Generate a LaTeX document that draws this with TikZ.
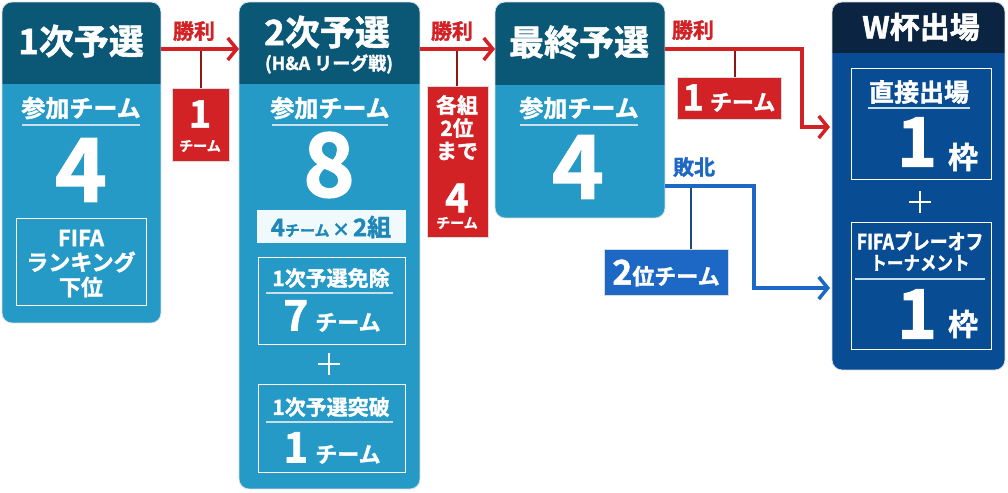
\documentclass[tikz,border=0pt]{standalone}
\usepackage{fontspec}
\setmainfont{Noto Sans CJK JP}[BoldFont={Noto Sans CJK JP Bold}, BoldFeatures={FakeBold=1.5}]
\usetikzlibrary{arrows.meta,calc}
\definecolor{hdr}{RGB}{10,88,118}
\definecolor{bod}{RGB}{38,154,199}
\definecolor{wred}{RGB}{210,34,38}
\definecolor{dred}{RGB}{140,24,24}
\definecolor{lblue}{RGB}{28,104,196}
\definecolor{dblue}{RGB}{30,70,130}
\definecolor{navy}{RGB}{10,36,66}
\definecolor{wbody}{RGB}{8,76,148}
\definecolor{uline}{RGB}{200,222,232}
\definecolor{pale}{RGB}{240,250,253}
\definecolor{tblue}{RGB}{32,136,184}
\definecolor{edge}{RGB}{215,220,225}
\newcommand\myfs[1]{\fontsize{#1pt}{#1pt}\selectfont}
\tikzset{
  blk/.style={anchor=north west, inner sep=0pt, outer sep=0pt},
  wt/.style={text=white, inner sep=0pt, outer sep=0pt},
  lbl/.style={inner sep=0pt, outer sep=0pt, font=\bfseries\myfs{21}},
  frm/.style={draw=white, line width=1pt, anchor=north west, inner sep=0pt, outer sep=0pt},
  uln/.style={draw=uline, line width=2pt},
  plus/.style={draw=white, line width=1.6pt},
  winl/.style={draw=wred, line width=3.5pt},
  losel/.style={draw=lblue, line width=3.5pt},
  tip/.style={-{Straight Barb[length=9pt,width=22pt]}},
  rbox/.style={fill=wred, draw=edge, line width=0.8pt, anchor=north west, inner sep=0pt, outer sep=0pt},
  bbox/.style={fill=lblue, draw=edge, line width=0.8pt, anchor=north west, inner sep=0pt, outer sep=0pt},
}
\begin{document}
\begin{tikzpicture}[x=1pt,y=-1pt]
\useasboundingbox[fill=white] (0,0) rectangle (1008,492);

% ---------- block 1 ----------
\node[blk, minimum width=159pt, minimum height=321pt] (b1) at (2,2) {};
\begin{scope}
\clip[rounded corners=10pt] (b1.north west) rectangle (b1.south east);
\fill[bod] (b1.north west) rectangle (b1.south east);
\fill[hdr] (b1.north west) rectangle ($(b1.north east)+(0,82)$);
\end{scope}
\draw[edge, line width=0.8pt, rounded corners=10pt] (b1.north west) rectangle (b1.south east);
\node[wt, font=\bfseries\myfs{35}] (b1t) at (81,41) {1次予選};
\node[wt, font=\bfseries\myfs{24}] (b1p) at (81,108) {参加チーム};
\draw[uln] (22,125) -- (140,125);
\node[wt, font=\bfseries\myfs{88}] (b1n) at (81,170) {4};
\node[frm, minimum width=130pt, minimum height=87pt] (b1f) at (16,218) {};
\node[wt, font=\bfseries\myfs{22}] (b1f1) at (81,238) {FIFA};
\node[wt, font=\bfseries\myfs{22}] (b1f2) at (81,262) {ランキング};
\node[wt, font=\bfseries\myfs{22}] (b1f3) at (81,287) {下位};

% ---------- block 2 ----------
\node[blk, minimum width=181pt, minimum height=487pt] (b2) at (239,2) {};
\begin{scope}
\clip[rounded corners=10pt] (b2.north west) rectangle (b2.south east);
\fill[bod] (b2.north west) rectangle (b2.south east);
\fill[hdr] (b2.north west) rectangle ($(b2.north east)+(0,82)$);
\end{scope}
\draw[edge, line width=0.8pt, rounded corners=10pt] (b2.north west) rectangle (b2.south east);
\node[wt, font=\bfseries\myfs{35}] (b2t) at (327,32) {2次予選};
\node[wt, font=\bfseries\myfs{18}] (b2s) at (329,64) {(H\&A リーグ戦)};
\node[wt, font=\bfseries\myfs{24}] (b2p) at (330,108) {参加チーム};
\draw[uln] (272,125) -- (388,125);
\node[wt, font=\bfseries\myfs{88}] (b2n) at (329,165) {8};
\node[anchor=north west, fill=pale, minimum width=149pt, minimum height=33pt, inner sep=0pt] (b2g) at (257,210) {};
\node[text=tblue, inner sep=0pt, font=\bfseries] (b2gt) at (331,227) {\myfs{24}4\myfs{15}チーム\,\myfs{18}×\,\myfs{24}2組};
\node[frm, minimum width=147pt, minimum height=87pt] (b2a) at (258,257) {};
\node[wt, font=\bfseries\myfs{21}] (b2a1) at (331,278) {1次予選免除};
\draw[uln] (266,293) -- (393,293);
\node[wt, font=\bfseries] (b2a2) at (332,316) {\myfs{42}7\,\myfs{22}チーム};
\draw[plus] (318,364) -- (340,364) (329,353) -- (329,375);
\node[frm, minimum width=147pt, minimum height=88pt] (b2b) at (258,384) {};
\node[wt, font=\bfseries\myfs{21}] (b2b1) at (331,407) {1次予選突破};
\draw[uln] (266,422) -- (393,422);
\node[wt, font=\bfseries] (b2b2) at (332,448) {\myfs{42}1\,\myfs{22}チーム};

% ---------- block 3 ----------
\node[blk, minimum width=170pt, minimum height=216pt] (b3) at (495,2) {};
\begin{scope}
\clip[rounded corners=10pt] (b3.north west) rectangle (b3.south east);
\fill[bod] (b3.north west) rectangle (b3.south east);
\fill[hdr] (b3.north west) rectangle ($(b3.north east)+(0,83)$);
\end{scope}
\draw[edge, line width=0.8pt, rounded corners=10pt] (b3.north west) rectangle (b3.south east);
\node[wt, font=\bfseries\myfs{35}] (b3t) at (579,42) {最終予選};
\node[wt, font=\bfseries\myfs{24}] (b3p) at (579,108) {参加チーム};
\draw[uln] (520,125) -- (638,125);
\node[wt, font=\bfseries\myfs{88}] (b3n) at (578,167) {4};

% ---------- block 4 ----------
\node[blk, minimum width=173pt, minimum height=368pt] (b4) at (832,2) {};
\begin{scope}
\clip[rounded corners=10pt] (b4.north west) rectangle (b4.south east);
\fill[wbody] (b4.north west) rectangle (b4.south east);
\fill[navy] (b4.north west) rectangle ($(b4.north east)+(0,51)$);
\end{scope}
\draw[edge, line width=0.8pt, rounded corners=10pt] (b4.north west) rectangle (b4.south east);
\node[wt, font=\bfseries\myfs{30}] (b4t) at (921,27) {W杯出場};
\node[frm, minimum width=140pt, minimum height=110pt] (b4a) at (851,69) {};
\node[wt, font=\bfseries\myfs{25}] (b4a1) at (919,92) {直接出場};
\draw[uln] (868,108) -- (970,108);
\node[wt, font=\bfseries\myfs{68}] (b4a2) at (917,142) {1};
\node[wt, font=\bfseries\myfs{30}] (b4a3) at (963,157) {枠};
\draw[plus] (909,202) -- (931,202) (920,191) -- (920,213);
\node[frm, minimum width=140pt, minimum height=127pt] (b4b) at (851,222) {};
\node[wt, font=\bfseries\myfs{21}] (b4b1) at (920,241) {\scalebox{0.85}[1]{FIFAプレーオフ}};
\node[wt, font=\bfseries\myfs{19}] (b4b2) at (920,263) {\scalebox{0.87}[1]{トーナメント}};
\draw[uln, line width=1.2pt] (855,279) -- (985,279);
\node[wt, font=\bfseries\myfs{68}] (b4b3) at (917,314) {1};
\node[wt, font=\bfseries\myfs{30}] (b4b4) at (963,324) {枠};

% ---------- connector 1 ----------
\coordinate (a1s) at ($(b1.north east)+(0,47)$);
\coordinate (a1e) at ($(b2.north west)+(0,47)$);
\node[rbox, minimum width=57pt, minimum height=73pt] (r1) at (172,88) {};
\draw[dred, line width=2pt] (r1.north) -- (r1.north |- a1s);
\draw[winl, tip] (a1s) -- (a1e);
\node[lbl, text=wred] (l1) at (194,31) {勝利};
\node[wt, font=\bfseries\myfs{38}] (r1a) at (200,114) {1};
\node[wt, font=\bfseries\myfs{14}] (r1b) at (200,146) {チーム};

% ---------- connector 2 ----------
\coordinate (a2s) at ($(b2.north east)+(0,47)$);
\coordinate (a2e) at ($(b3.north west)+(0,47)$);
\node[rbox, minimum width=61pt, minimum height=151pt] (r2) at (427,86) {};
\draw[dred, line width=2pt] (r2.north -| 457,0) -- (a2s -| 457,0);
\draw[winl, tip] (a2s) -- (a2e);
\node[lbl, text=wred] (l2) at (452,31) {勝利};
\node[wt, font=\bfseries\myfs{21}] (r2a) at (457,105) {各組};
\node[wt, font=\bfseries\myfs{21}] (r2b) at (457,128) {2位};
\node[wt, font=\bfseries\myfs{21}] (r2c) at (457,151) {まで};
\node[wt, font=\bfseries\myfs{40}] (r2d) at (457,198) {4};
\node[wt, font=\bfseries\myfs{14}] (r2e) at (457,223) {チーム};

% ---------- connector 3 (win) ----------
\coordinate (a3s) at ($(b3.north east)+(0,47)$);
\coordinate (a3k) at (802,127);
\coordinate (a3e) at ($(b4.north west)+(-2,125)$);
\node[rbox, minimum width=104pt, minimum height=42pt] (r3) at (677,77) {};
\draw[dred, line width=2pt] (r3.north -| 735,0) -- (a3s -| 735,0);
\draw[winl, tip] (a3s) -| (a3k) -- (a3e);
\node[lbl, text=wred] (l3) at (693,30) {勝利};
\node[wt, font=\bfseries] (r3a) at (729,98) {\myfs{36}1\,\myfs{22}チーム};

% ---------- connector 4 (lose) ----------
\coordinate (a4s) at ($(b3.north east)+(0,184)$);
\coordinate (a4k) at (754,288);
\coordinate (a4e) at ($(b4.north west)+(-2,286)$);
\node[bbox, minimum width=124pt, minimum height=46pt] (q4) at (604,249) {};
\draw[dblue, line width=2pt] (q4.north -| 691,0) -- (a4s -| 691,0);
\draw[losel, tip] (a4s) -| (a4k) -- (a4e);
\node[lbl, text=lblue] (l4) at (694,167) {敗北};
\node[wt, font=\bfseries] (q4a) at (666,273) {\myfs{34}2\myfs{22}位チーム};
\end{tikzpicture}
\end{document}
